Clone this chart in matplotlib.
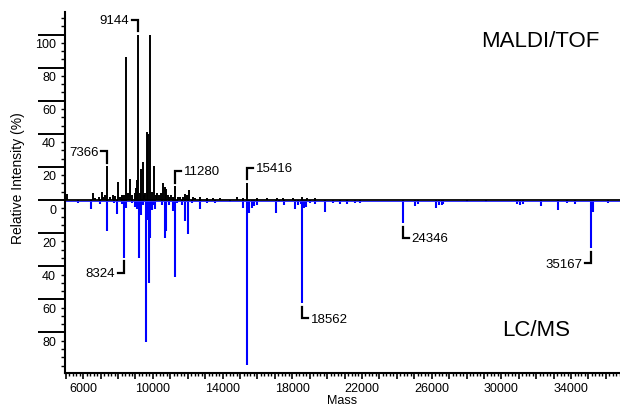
import numpy as np
import matplotlib
matplotlib.use('Agg')
import matplotlib.pyplot as plt
import matplotlib.transforms as mtransforms
from matplotlib.ticker import MultipleLocator, FixedLocator

plt.rcParams['font.family'] = ['Liberation Sans', 'DejaVu Sans']

# MALDI/TOF peaks (mass, relative intensity %)
maldi_mass = [5050, 6543, 6650, 6880, 7060, 7150, 7250, 7366, 7550, 7727, 7850, 7996,
              8100, 8226, 8350, 8455, 8553, 8685, 8817, 8954, 9046, 9080, 9144, 9250,
              9334, 9414, 9500, 9563, 9665, 9705, 9851, 9930, 10062, 10150, 10217,
              10332, 10450, 10561, 10676, 10768, 10883, 10950, 11055, 11150, 11280,
              11457, 11572, 11700, 11824, 11939, 12071, 12284, 12400, 12703, 13087,
              13470, 13850, 14810, 15190, 15416, 15957, 16531, 17105, 17488, 18060,
              18542, 18829, 19306]
maldi_int = [3.6, 4, 1.5, 2, 5, 2, 3, 20.5, 2, 3, 2.5, 11,
             2, 3, 3, 86.6, 4, 13, 3, 4, 7, 12, 100, 4,
             19, 23, 3, 4, 41, 40, 99.7, 5, 20.7, 3, 4,
             3, 4, 10, 8, 6.6, 3, 2, 3, 2, 8.5,
             2, 2, 2, 3.4, 3, 6, 2, 1.5, 2, 1.5,
             1.5, 1.2, 2, 1.2, 10.5, 1.5, 1.2, 1.5, 1.5, 1.5,
             2, 1.5, 1.5]

# LC/MS peaks (mass, relative intensity %), drawn downward
lc_mass = [5720, 6446, 6962, 7347, 7780, 7921, 8208, 8324, 8455, 8783, 8972, 9068,
           9200, 9299, 9414, 9585, 9660, 9775, 9850, 9947, 10024, 10139, 10522,
           10676, 10768, 10905, 11170, 11280, 11400, 11651, 11841, 12014, 12226,
           12702, 13122, 13563, 14424, 15170, 15416, 15535, 15670, 15802, 15993,
           17065, 17254, 17541, 18156, 18345, 18482, 18562, 18673, 18760, 19016,
           19306, 19877, 20355, 20738, 21121, 21600, 21887, 24346, 25044, 25233,
           26250, 26440, 26575, 26670, 28010, 29120, 30880, 31070, 31225, 32260,
           33270, 33750, 34230, 35167, 35240, 36140]
lc_int = [2, 5.6, 2.4, 18.7, 2, 8.7, 2.5, 34.8, 5, 2, 4, 5.6,
          34.8, 9, 3, 85.6, 12, 50.3, 23, 6, 3, 5.6, 3,
          23, 18.5, 3, 6.6, 46.7, 2, 3, 12.5, 20.7, 2,
          5.6, 2, 1.5, 1.2, 4.6, 99.7, 8, 4.6, 3.5, 3,
          7.6, 1.2, 3, 5.6, 3, 2.5, 62.5, 5, 4, 2,
          2.5, 7, 2, 2.5, 2.5, 2, 2, 14, 3.6, 2.5,
          4.6, 3, 3, 2.5, 1.2, 1.2, 2.5, 3, 2.5, 3.4,
          5.8, 2, 2.5, 29.2, 7, 2]

maldi_labels = [7366, 9144, 11280, 15416]
maldi_sides = ['left', 'left', 'right', 'right']
lc_labels = [8324, 18562, 24346, 35167]
lc_sides = ['left', 'right', 'right', 'left']

yticks = [-80, -60, -40, -20, 0, 20, 40, 60, 80, 100]

fig = plt.figure(figsize=(6.2, 4.07), dpi=100)
ax = fig.add_axes([65/620, 34/407, 555/620, 361/407])

ax.vlines(lc_mass, 0, -np.array(lc_int), color='#0000ff', lw=1.5)
ax.vlines(maldi_mass, 0, maldi_int, color='black', lw=1.4)
ax.axhline(-0.5, color='#3030ff', lw=0.7)
ax.axhline(0, color='black', lw=1.3)

# bracket labels
arm = 340
gap, rise = 2.0, 7.0
for m, side in zip(maldi_labels, maldi_sides):
    h = maldi_int[maldi_mass.index(m)]
    y0, y1 = h + gap, h + gap + rise
    xe = m - arm if side == 'left' else m + arm
    ax.plot([m, m, xe], [y0, y1, y1], color='black', lw=1.6, solid_joinstyle='miter')
    ax.annotate(str(m), xy=(xe, y1), xytext=(-2 if side == 'left' else 2, -1),
                textcoords='offset points', ha='right' if side == 'left' else 'left',
                va='center', fontsize=9.5)
for m, side in zip(lc_labels, lc_sides):
    h = lc_int[lc_mass.index(m)]
    y0, y1 = -(h + gap), -(h + gap + rise)
    xe = m - arm if side == 'left' else m + arm
    ax.plot([m, m, xe], [y0, y1, y1], color='black', lw=1.6, solid_joinstyle='miter')
    ax.annotate(str(m), xy=(xe, y1), xytext=(-2 if side == 'left' else 2, -1),
                textcoords='offset points', ha='right' if side == 'left' else 'left',
                va='center', fontsize=9.5)

ax.text(0.856, 0.917, 'MALDI/TOF', transform=ax.transAxes, ha='center', va='center', fontsize=16)
ax.text(0.849, 0.119, 'LC/MS', transform=ax.transAxes, ha='center', va='center', fontsize=16)

ax.set_xlim(4954, 36810)
ax.set_ylim(-104.5, 113.6)

for s in ['top', 'right']:
    ax.spines[s].set_visible(False)
for s in ['left', 'bottom']:
    ax.spines[s].set_linewidth(1.5)

# x ticks
ax.xaxis.set_major_locator(MultipleLocator(1000))
ax.xaxis.set_minor_locator(MultipleLocator(200))
ax.set_xticklabels([str(int(t)) if (int(t) - 2000) % 4000 == 0 else ''
                    for t in ax.get_xticks()], fontsize=9)
ax.tick_params(axis='x', which='major', length=4, width=1.2, pad=3)
ax.tick_params(axis='x', which='minor', length=2.5, width=1.0)

# y ticks: long majors, labels tucked under the tick line
ax.yaxis.set_major_locator(FixedLocator(yticks))
ax.yaxis.set_minor_locator(MultipleLocator(5))
ax.set_yticklabels([str(abs(t)) for t in yticks], fontsize=9)
ax.tick_params(axis='y', which='major', length=19.4, width=1.4, pad=-13)
ax.tick_params(axis='y', which='minor', length=3, width=1.0)
offset = mtransforms.ScaledTranslation(0, -0.09, fig.dpi_scale_trans)
for lab in ax.get_yticklabels():
    lab.set_transform(lab.get_transform() + offset)

ax.set_xlabel('Mass', fontsize=9, labelpad=0)
fig.text(18/620, 1 - 178/407, 'Relative Intensity (%)', rotation=90,
         ha='center', va='center', fontsize=10)

fig.savefig('out.png', dpi=100)
